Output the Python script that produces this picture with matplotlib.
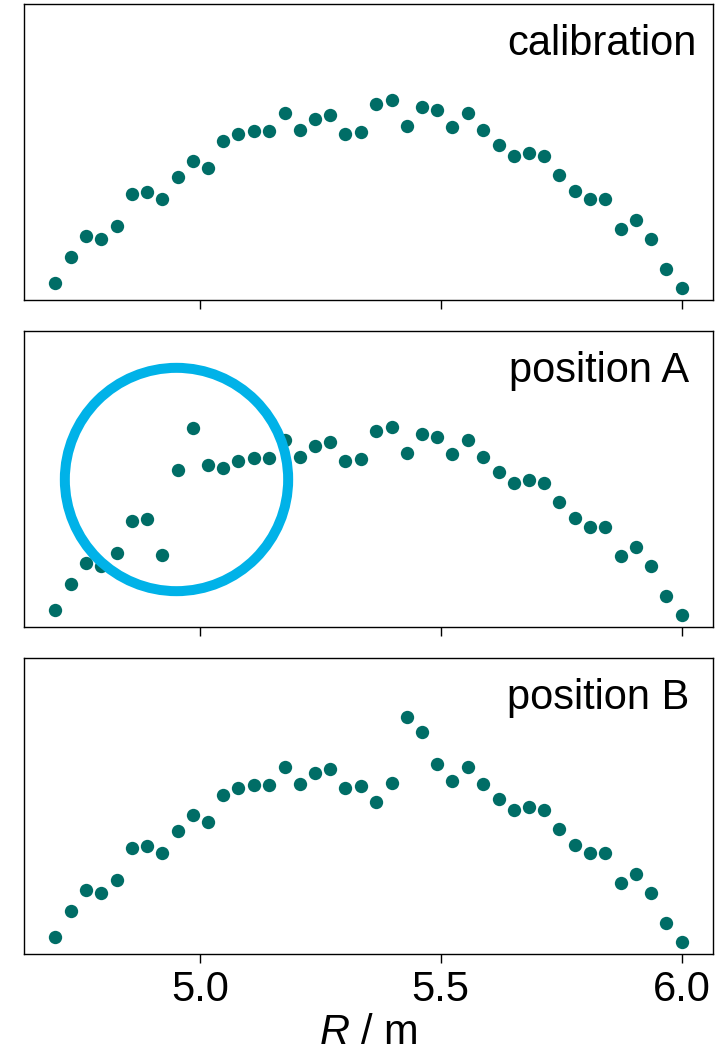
import matplotlib
matplotlib.use("Agg")
import matplotlib.pyplot as plt

plt.rcParams["font.family"] = ["Liberation Sans", "DejaVu Sans"]
plt.rcParams["mathtext.fontset"] = "custom"
plt.rcParams["mathtext.it"] = "Liberation Sans:italic"
plt.rcParams["mathtext.rm"] = "Liberation Sans"

# major radius of each channel (m)
radius = [4.700, 4.732, 4.763, 4.795, 4.827, 4.859, 4.890, 4.922, 4.954, 4.985,
          5.017, 5.049, 5.080, 5.112, 5.144, 5.176, 5.207, 5.239, 5.271, 5.302,
          5.334, 5.366, 5.398, 5.429, 5.461, 5.493, 5.524, 5.556, 5.588, 5.620,
          5.651, 5.683, 5.715, 5.746, 5.778, 5.810, 5.841, 5.873, 5.905, 5.937,
          5.968, 6.000]

calibration = [5.8, 14.5, 21.6, 20.7, 25.1, 35.8, 36.4, 34.3, 41.5, 47.0,
               44.8, 53.9, 56.0, 57.1, 57.2, 63.2, 57.5, 61.3, 62.7, 56.2,
               56.7, 66.2, 67.6, 58.7, 65.4, 64.3, 58.6, 63.4, 57.6, 52.3,
               48.8, 49.8, 48.7, 42.4, 36.8, 34.0, 34.0, 24.1, 27.0, 20.7,
               10.4, 4.0]

position_a = [5.8, 14.5, 21.6, 20.7, 25.1, 35.8, 36.4, 24.3, 53.2, 67.4,
              54.9, 53.9, 56.0, 57.1, 57.2, 63.2, 57.5, 61.3, 62.7, 56.2,
              56.7, 66.2, 67.6, 58.7, 65.4, 64.3, 58.6, 63.4, 57.6, 52.3,
              48.8, 49.8, 48.7, 42.4, 36.8, 34.0, 34.0, 24.1, 27.0, 20.7,
              10.4, 4.0]

position_b = [5.8, 14.5, 21.6, 20.7, 25.1, 35.8, 36.4, 34.3, 41.5, 47.0,
              44.8, 53.9, 56.0, 57.1, 57.2, 63.2, 57.5, 61.3, 62.7, 56.2,
              56.7, 51.3, 57.9, 80.0, 75.0, 64.3, 58.6, 63.4, 57.6, 52.3,
              48.8, 49.8, 48.7, 42.4, 36.8, 34.0, 34.0, 24.1, 27.0, 20.7,
              10.4, 4.0]

panel_titles = ["calibration", "position A", "position B"]
xtick_values = [5.0, 5.5, 6.0]

# highlighted region in position A
highlight_center = (4.95, 50.0)

dot_color = "#006d66"
ring_color = "#00b2e8"

fig = plt.figure(figsize=(7.23, 10.54), dpi=100)
left, width, height = 0.0332, 0.953, 0.2805
bottoms = [0.7154, 0.4051, 0.0949]
title_x = [0.976, 0.965, 0.965]

axes = []
for i, (title, values) in enumerate(zip(panel_titles,
                                        [calibration, position_a, position_b])):
    ax = fig.add_axes([left, bottoms[i], width, height])
    ax.plot(radius, values, "o", color=dot_color, ms=9.6, mew=0, zorder=3)
    ax.set_ylim(0, 100)
    ax.set_xlim(4.635, 6.065)
    ax.set_yticks([])
    ax.set_xticks(xtick_values)
    ax.tick_params(axis="x", direction="out", length=6.3, width=1.0,
                   labelsize=30, pad=5)
    if i < 2:
        ax.tick_params(axis="x", labelbottom=False)
    else:
        ax.set_xticklabels([f"{v:.1f}" for v in xtick_values])
        ax.set_xlabel(r"$R$ / m", fontsize=30, labelpad=2.5)
    for sp in ax.spines.values():
        sp.set_linewidth(1.0)
    ax.text(title_x[i], 0.83, title, transform=ax.transAxes, ha="right",
            va="baseline", fontsize=30)
    axes.append(ax)

axes[1].plot(*highlight_center, "o", ms=160.8, mfc="none", mec=ring_color,
             mew=7.2, zorder=4, clip_on=False)

fig.savefig("out.png", dpi=100)
